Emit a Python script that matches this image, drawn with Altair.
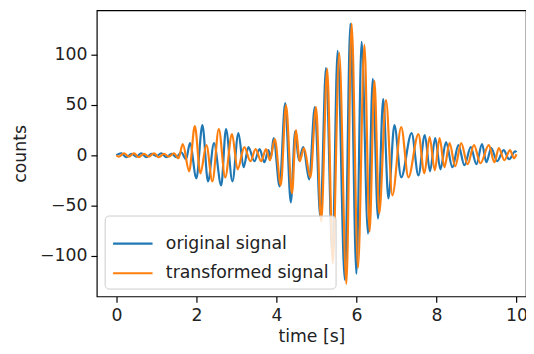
import altair as alt
import pandas as pd

# values (extrema of each trace)
ORIG_T = [0.0, 0.12, 0.25, 0.38, 0.5, 0.62, 0.75, 0.88, 1.0, 1.12, 1.25, 1.38, 1.5, 1.62, 1.74,
          1.84, 2.0, 2.15, 2.29, 2.44, 2.62, 2.74, 2.9, 3.05, 3.18, 3.3, 3.45, 3.58, 3.7, 3.8,
          3.86, 3.93, 4.08, 4.22, 4.36, 4.47, 4.56, 4.67, 4.82, 4.96, 5.1, 5.24, 5.4, 5.53, 5.71,
          5.85, 6.0, 6.13, 6.29, 6.41, 6.54, 6.67, 6.8, 6.95, 7.12, 7.38, 7.55, 7.71, 7.84, 7.97,
          8.1, 8.24, 8.4, 8.55, 8.7, 8.86, 9.0, 9.14, 9.25, 9.37, 9.52, 9.68, 9.82, 9.97, 10.0]
ORIG_V = [0, 2, -2, 1.5, -1.5, 2, -2, 1.5, -1, 2, -2, 1.5, -2, 3, -4,
          12, -23, 30, -26, 12, -30, 26, -26, 22, -12, 8, -6, 6, -7, 5,
          -3, 17, -31, 52, -47, 24, -5, 8, -24, 48, -62, 87, -100, 104, -124,
          131, -118, 113, -78, 76, -63, 56, -43, 30, -22, 22, -20, 20, -16, 17,
          -14, 13, -12, 10, -10, 8, -9, 11, -7, 7, -6, 5, -4, 4, 3]

TRANS_T = [0.0, 0.06, 0.19, 0.31, 0.44, 0.56, 0.69, 0.81, 0.94, 1.06, 1.19, 1.31, 1.44, 1.55,
           1.66, 1.82, 1.96, 2.1, 2.25, 2.4, 2.56, 2.72, 2.89, 3.03, 3.2, 3.35, 3.48, 3.62, 3.74,
           3.84, 3.96, 4.11, 4.24, 4.39, 4.49, 4.58, 4.69, 4.85, 4.99, 5.12, 5.27, 5.41, 5.57,
           5.75, 5.88, 6.04, 6.2, 6.33, 6.45, 6.57, 6.74, 6.9, 7.12, 7.3, 7.55, 7.7, 7.83, 7.96,
           8.08, 8.2, 8.33, 8.47, 8.62, 8.78, 8.94, 9.1, 9.31, 9.45, 9.56, 9.7, 9.84, 9.94, 10.0]
TRANS_V = [0, -1.5, 2, -1.5, 2, -2, 1.5, -1.5, 2, -2, 1.5, -1.5, 2, -3,
           11, -16, 29, -18, 10, -26, 26, -22, 21, -14, 8, -6, 6, -6, 6,
           -5, 16, -30, 50, -38, 25, -6, 7, -22, 48, -66, 86, -108, 102,
           -128, 131, -112, 110, -76, 74, -58, 55, -40, 28, -22, 21, -18, 18, -15,
           17, -12, 12, -11, 12, -9, 10, -8, 10, -7, 7, -5, 5, -3, 1]

SERIES = ["original signal", "transformed signal"]
COLORS = ["#1f77b4", "#ff7f0e"]
X_TICKS = [0, 2, 4, 6, 8, 10]
Y_TICKS = [-100, -50, 0, 50, 100]

df = pd.concat([
    pd.DataFrame({"series": SERIES[0], "t": ORIG_T, "v": ORIG_V, "o": 0}),
    pd.DataFrame({"series": SERIES[1], "t": TRANS_T, "v": TRANS_V, "o": 1}),
], ignore_index=True)

FONT = "DejaVu Sans"

chart = alt.Chart(df).mark_line(
    interpolate="monotone", strokeWidth=2.2, clip=True
).encode(
    x=alt.X("t:Q", title="time [s]",
            scale=alt.Scale(domain=[-0.49, 10.24], nice=False, zero=False),
            axis=alt.Axis(values=X_TICKS, format="d")),
    y=alt.Y("v:Q", title="counts",
            scale=alt.Scale(domain=[-140.6, 144.3], nice=False, zero=False),
            axis=alt.Axis(values=Y_TICKS, format="d")),
    color=alt.Color("series:N", scale=alt.Scale(domain=SERIES, range=COLORS),
                    legend=alt.Legend(title=None, orient="bottom-left")),
    order=alt.Order("o:Q"),
    detail="series:N",
).properties(
    width=435,
    height=290,
    autosize=alt.AutoSizeParams(type="none"),
    padding={"left": 90, "top": 0, "right": 0, "bottom": 56},
).configure_view(
    stroke="black", strokeWidth=1.2
).configure_axis(
    grid=False, domain=False,
    tickColor="black", tickSize=6, tickWidth=1.2,
    labelFont=FONT, labelFontSize=17.5, labelColor="#222222", labelPadding=4,
    titleFont=FONT, titleFontSize=17.5, titleColor="#222222", titleFontWeight="normal",
).configure_axisX(
    titlePadding=4
).configure_axisY(
    titlePadding=10
).configure_legend(
    labelFont=FONT, labelFontSize=17.5, labelColor="#222222", labelLimit=0,
    symbolType="stroke", symbolSize=1600, symbolStrokeWidth=2.2,
    labelOffset=12, padding=7, rowPadding=0, offset=8,
    strokeColor="#cccccc", fillColor="rgba(255,255,255,0.8)", cornerRadius=4,
)

chart.save("out.html", embed_options={"renderer": "svg", "actions": False})
